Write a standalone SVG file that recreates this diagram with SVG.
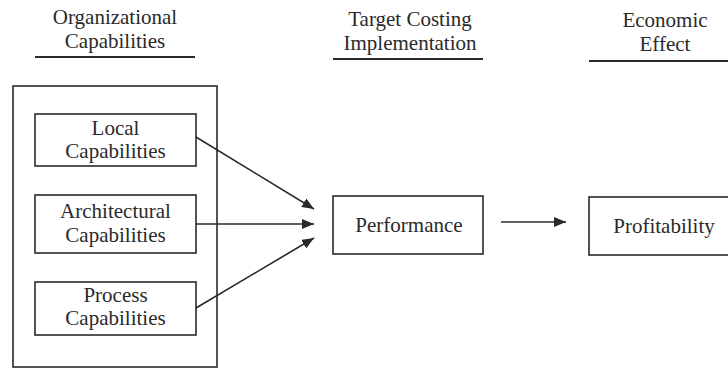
<svg xmlns="http://www.w3.org/2000/svg" width="728" height="369" viewBox="0 0 728 369">
<defs>
<style>
text{font-size:21px;fill:#2a2a2a;text-anchor:middle}
.box{fill:none;stroke:#2a2a2a;stroke-width:1.6}
.ul{stroke:#2a2a2a;stroke-width:2}
.conn{stroke:#2a2a2a;stroke-width:1.6;fill:none;marker-end:url(#ah)}
</style>
<marker id="ah" markerWidth="12" markerHeight="10" refX="12" refY="5" orient="auto" markerUnits="userSpaceOnUse">
<path d="M0,0 L12,5 L0,10 z" fill="#2a2a2a"/>
</marker>
</defs>
<rect width="728" height="369" fill="#fff"/>
<g font-family="Liberation Serif, serif">
<g id="header-org">
<text x="115" y="24">Organizational</text>
<text x="115" y="48">Capabilities</text>
<line class="ul" x1="35" y1="57" x2="195" y2="57"/>
</g>
<g id="header-tc">
<text x="410" y="26">Target Costing</text>
<text x="410" y="50">Implementation</text>
<line class="ul" x1="333" y1="59" x2="483" y2="59"/>
</g>
<g id="header-econ">
<text x="665" y="27">Economic</text>
<text x="665" y="51">Effect</text>
<line class="ul" x1="589" y1="61" x2="730" y2="61"/>
</g>
<g id="org-capabilities">
<rect class="box" x="13" y="86" width="204" height="281"/>
</g>
<g id="local">
<rect class="box" x="35" y="114" width="161" height="52"/>
<text x="115.5" y="135">Local</text>
<text x="115.5" y="158">Capabilities</text>
</g>
<g id="architectural">
<rect class="box" x="35" y="195" width="161" height="58"/>
<text x="115.5" y="218">Architectural</text>
<text x="115.5" y="242">Capabilities</text>
</g>
<g id="process">
<rect class="box" x="35" y="282" width="161" height="53"/>
<text x="115.5" y="302">Process</text>
<text x="115.5" y="325">Capabilities</text>
</g>
<g id="performance">
<rect class="box" x="333" y="196" width="150" height="58"/>
<text x="409" y="232">Performance</text>
</g>
<g id="profitability">
<rect class="box" x="589" y="197" width="152" height="58"/>
<text x="664" y="233">Profitability</text>
</g>
</g>
<g id="connectors">
<line class="conn" x1="196" y1="137" x2="314" y2="209"/>
<line class="conn" x1="196" y1="224" x2="314" y2="224"/>
<line class="conn" x1="196" y1="308" x2="314" y2="238"/>
<line class="conn" x1="501" y1="222" x2="566" y2="222"/>
</g>
</svg>
